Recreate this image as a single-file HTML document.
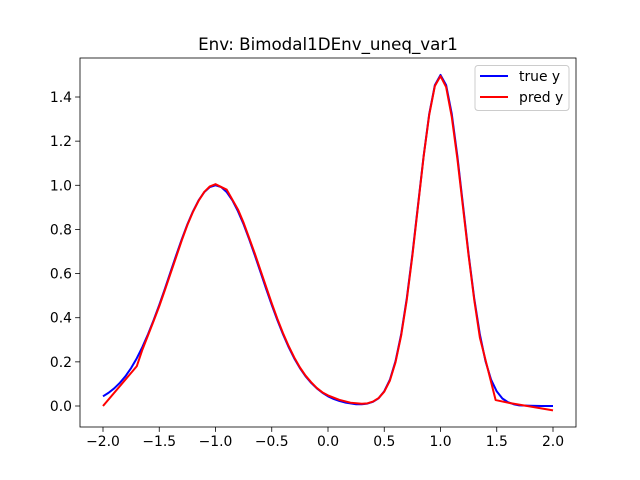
<!DOCTYPE html>
<html><head><meta charset="utf-8"><style>body{margin:0;background:#fff}svg{display:block;font-family:"DejaVu Sans","Liberation Sans",sans-serif}</style></head>
<body>
<svg id="chart" width="640" height="480">
<rect width="640" height="480" fill="#fff"/>
<text x="328" y="50" text-anchor="middle" font-size="16.7">Env: Bimodal1DEnv_uneq_var1</text>
<g id="plot"></g>
</svg>
<script>
const trueX=[-2.0,-1.95,-1.9,-1.85,-1.8,-1.75,-1.7,-1.65,-1.6,-1.55,-1.5,-1.45,-1.4,-1.35,-1.3,-1.25,-1.2,-1.15,-1.1,-1.05,-1.0,-0.95,-0.9,-0.85,-0.8,-0.75,-0.7,-0.65,-0.6,-0.55,-0.5,-0.45,-0.4,-0.35,-0.3,-0.25,-0.2,-0.15,-0.1,-0.05,0.0,0.05,0.1,0.15,0.2,0.25,0.3,0.35,0.4,0.45,0.5,0.55,0.6,0.65,0.7,0.75,0.8,0.85,0.9,0.95,1.0,1.05,1.1,1.15,1.2,1.25,1.3,1.35,1.4,1.45,1.5,1.55,1.6,1.65,1.7,1.8,1.9,2.0];
const trueY=[0.044,0.060,0.080,0.105,0.135,0.172,0.216,0.267,0.325,0.389,0.458,0.531,0.607,0.682,0.755,0.823,0.882,0.932,0.969,0.992,1.0,0.992,0.969,0.932,0.882,0.823,0.755,0.682,0.607,0.531,0.458,0.389,0.325,0.267,0.216,0.172,0.135,0.105,0.080,0.060,0.044,0.032,0.023,0.016,0.012,0.008,0.008,0.011,0.019,0.035,0.067,0.119,0.203,0.324,0.487,0.687,0.910,1.132,1.324,1.454,1.5,1.454,1.324,1.132,0.910,0.687,0.487,0.324,0.203,0.119,0.066,0.034,0.017,0.008,0.003,0.001,0.0,0.0];
const predX=[-2.0,-1.7,-1.65,-1.6,-1.55,-1.5,-1.45,-1.4,-1.35,-1.3,-1.25,-1.2,-1.15,-1.1,-1.05,-1.0,-0.9,-0.8,-0.75,-0.7,-0.65,-0.6,-0.55,-0.5,-0.45,-0.4,-0.35,-0.3,-0.25,-0.2,-0.15,-0.1,-0.05,0.0,0.1,0.2,0.3,0.35,0.4,0.45,0.5,0.55,0.6,0.65,0.7,0.75,0.8,0.85,0.9,0.95,1.0,1.05,1.1,1.15,1.2,1.25,1.3,1.35,1.49,1.6,2.0];
const predY=[0.0,0.18,0.255,0.32,0.385,0.452,0.525,0.60,0.675,0.75,0.82,0.88,0.93,0.97,0.995,1.005,0.98,0.89,0.83,0.76,0.69,0.615,0.54,0.465,0.395,0.33,0.272,0.22,0.175,0.138,0.108,0.082,0.062,0.048,0.028,0.015,0.01,0.012,0.02,0.036,0.065,0.115,0.198,0.318,0.48,0.68,0.905,1.13,1.32,1.45,1.495,1.445,1.31,1.12,0.9,0.68,0.48,0.31,0.027,0.015,-0.02];
const xTicks=[-2.0,-1.5,-1.0,-0.5,0.0,0.5,1.0,1.5,2.0];
const yTicks=[0.0,0.2,0.4,0.6,0.8,1.0,1.2,1.4];
const L=80,R=576,T=58,B=427;
const sx=v=>103+(v+2)*112.5;
const sy=v=>406-v*220.71;
const NS="http://www.w3.org/2000/svg";
const g=document.getElementById('plot');
function mk(t,a,p){const e=document.createElementNS(NS,t);for(const k in a)e.setAttribute(k,a[k]);(p||g).appendChild(e);return e;}
xTicks.forEach(v=>{
  const l=mk('line',{x1:sx(v),x2:sx(v),y1:B,y2:B+4.9,stroke:'#000','stroke-width':0.8});
  
  
  const t=mk('text',{x:sx(v),y:B+19,'text-anchor':'middle','font-size':13.9});
  t.textContent=v.toFixed(1).replace('-','\u2212');
  
  
});
yTicks.forEach(v=>{
  const l=mk('line',{x1:L-4.9,x2:L,y1:sy(v),y2:sy(v),stroke:'#000','stroke-width':0.8});
  
  
  const t=mk('text',{x:L-8,y:sy(v)+5,'text-anchor':'end','font-size':13.9});
  t.textContent=v.toFixed(1);
  
  
});
function line(xs,ys,c,name){
  const p=mk('polyline',{points:xs.map((x,i)=>sx(x)+','+sy(ys[i])).join(' '),fill:'none',stroke:c,'stroke-width':2,'stroke-linejoin':'round'});
  
  
}
line(trueX,trueY,'#0000ff','true-y-line');
line(predX,predY,'#ff0000','pred-y-line');
const fr=mk('rect',{x:L,y:T,width:R-L,height:B-T,fill:'none',stroke:'#000','stroke-width':0.8});


const lg=mk('g',{});


mk('rect',{x:475,y:65.5,width:94,height:45,rx:3,fill:'#fff','fill-opacity':0.8,stroke:'#ccc','stroke-width':1},lg);
[['true y','#0000ff'],['pred y','#ff0000']].forEach((e,i)=>{
  const y=76+i*21;
  const ln=mk('line',{x1:480,x2:508,y1:y,y2:y,stroke:e[1],'stroke-width':2},lg);
  
  
  const t=mk('text',{x:519,y:y+5,'font-size':13.9},lg);
  t.textContent=e[0];
  
  
});
</script>
</body></html>
